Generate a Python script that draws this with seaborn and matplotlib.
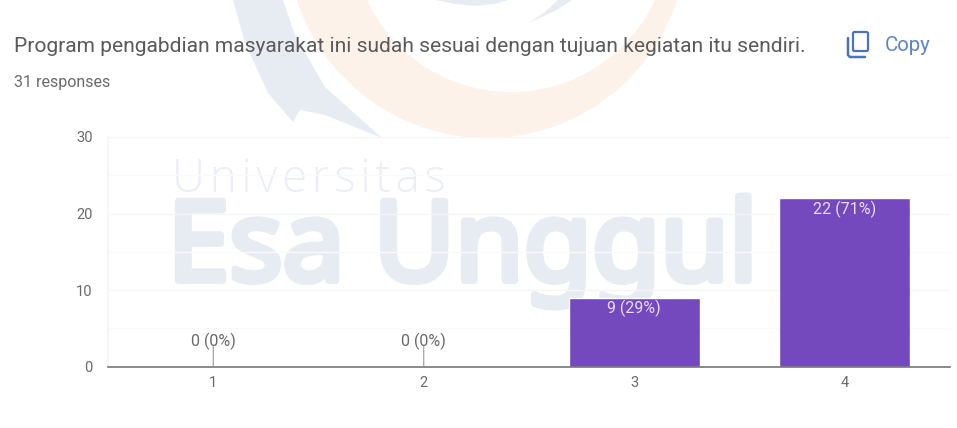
import matplotlib
matplotlib.use("Agg")
import matplotlib.pyplot as plt
import matplotlib.patheffects as pe
import pandas as pd
import seaborn as sns
from matplotlib.patches import Circle, Polygon, FancyBboxPatch

categories = ["1", "2", "3", "4"]
counts = [0, 0, 9, 22]
labels = ["0 (0%)", "0 (0%)", "9 (29%)", "22 (71%)"]
yticks = [0, 10, 20, 30]
minor_yticks = [5, 15, 25]
title = "Program pengabdian masyarakat ini sudah sesuai dengan tujuan kegiatan itu sendiri."
subtitle = "31 responses"

BAR = "#7349bd"
GREY = "#6a6a6a"
WM_BLUE = "#e7ecf3"
WM_ORANGE = "#fdf2ea"

sns.set_theme(style="white")
plt.rcParams["font.family"] = ["Roboto", "DejaVu Sans"]

W, H = 957, 428
fig = plt.figure(figsize=(W / 100, H / 100), dpi=100, facecolor="white")

# page layer in pixel units: watermark and header
bg = fig.add_axes([0, 0, 1, 1], zorder=0)
bg.set_xlim(0, W)
bg.set_ylim(H, 0)
bg.axis("off")

bg.add_patch(Circle((487, -62), 200, fc=WM_ORANGE, ec="none"))
bg.add_patch(Circle((511, -66.7), 158.7, fc="white", ec="none"))
bg.add_patch(Polygon([(233, 0), (245, 43), (268, 93), (293, 122), (300, 110), (325, 115),
                      (382, 138), (325, 87), (295, 35), (283, 0)],
                     fc=WM_BLUE, ec="none"))
bg.add_patch(Polygon([(435, 0), (455, 4), (475, 6), (495, 4), (508, 0)], fc=WM_BLUE, ec="none"))
bg.add_patch(Polygon([(528, 23), (545, 12), (558, 0), (572, 0), (555, 11)], fc=WM_BLUE, ec="none"))

bg.text(172, 192, "U\u200an\u200ai\u200av\u200ae\u200ar\u200as\u200ai\u200at\u200aa\u200as",
        fontsize=33, family=["Open Sans", "DejaVu Sans"], color="#ebeff5", weight="light",
        va="baseline")
bg.text(167.5, 280.5, "Esa Unggul", fontsize=80, family="Noto Sans", color=WM_BLUE,
        va="baseline",
        path_effects=[pe.withStroke(linewidth=5, foreground=WM_BLUE)])

bg.text(14, 52, title, fontsize=15.1, color="#5a5a5a", va="baseline")
bg.text(14, 87, subtitle, fontsize=11.5, color=GREY, va="baseline")
bg.text(885, 51, "Copy", fontsize=14.7, color="#5f83c4", va="baseline")

bg.add_patch(FancyBboxPatch((853, 32), 15, 19, boxstyle="round,pad=0,rounding_size=1.5",
                            fc="none", ec="#4a72bd", lw=1.6))
bg.plot([848, 848, 850, 865], [38, 55, 57, 57], color="#4a72bd", lw=1.8,
        solid_capstyle="round")

# chart layer
ax = fig.add_axes([108 / W, 1 - 366.5 / H, (950 - 108) / W, (366.5 - 137) / H], zorder=1)
ax.patch.set_alpha(0)

df = pd.DataFrame({"category": categories, "count": counts})
sns.barplot(data=df, x="category", y="count", color=BAR, saturation=1, width=0.62, ax=ax)

ax.set_xlim(-0.5, 3.5)
ax.set_ylim(0, 30)
ax.set_xlabel("")
ax.set_ylabel("")
ax.set_yticks(yticks)
ax.set_yticks(minor_yticks, minor=True)
ax.grid(True, axis="y", which="major", color="#f5f5f5", lw=1)
ax.grid(True, axis="y", which="minor", color="#fafafa", lw=1)
ax.set_axisbelow(True)
ax.tick_params(axis="both", which="both", length=0)
ax.tick_params(axis="x", labelsize=10.5, labelcolor=GREY, pad=6.5)
ax.tick_params(axis="y", labelsize=10.5, labelcolor=GREY, pad=11)

for side in ["top", "right"]:
    ax.spines[side].set_visible(False)
ax.spines["left"].set_color("#f5f5f5")
ax.spines["bottom"].set_color("#777777")
ax.spines["bottom"].set_linewidth(1.2)

for i, (value, label) in enumerate(zip(counts, labels)):
    if value == 0:
        ax.annotate("", xy=(i, 0), xytext=(0, 20), textcoords="offset pixels",
                    arrowprops=dict(arrowstyle="-", color="#999999", lw=0.8,
                                    shrinkA=0, shrinkB=0))
        ax.annotate(label, xy=(i, 0), xytext=(0, 25), textcoords="offset pixels",
                    ha="center", va="center", fontsize=11.5, color=GREY)
    else:
        ax.annotate(label, xy=(i, value), xytext=(0, -11), textcoords="offset pixels",
                    ha="center", va="center", fontsize=11.5, color="#e8defa")

fig.savefig("out.png", dpi=100)
